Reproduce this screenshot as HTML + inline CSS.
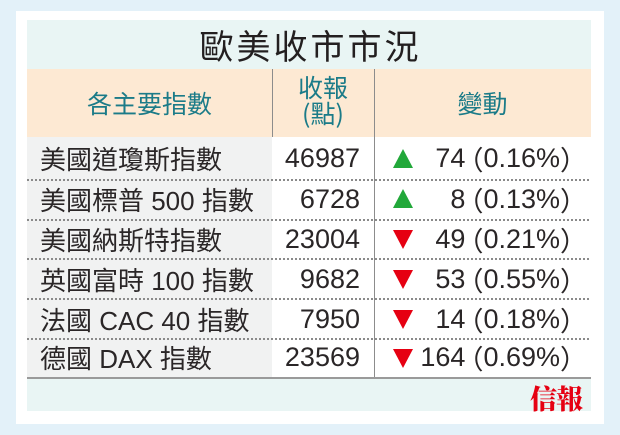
<!DOCTYPE html>
<html><head><meta charset="utf-8">
<style>
*{margin:0;padding:0;box-sizing:border-box}
html,body{width:620px;height:435px;overflow:hidden;background:#e3f1f9}
body{position:relative;font-family:"Liberation Sans","Noto Sans CJK TC",sans-serif;color:#231f20}
.abs{position:absolute}
.card{left:16px;top:11px;width:588px;height:413px;background:#fff}
.titleband{left:27px;top:20px;width:564px;height:49px;background:#e9f5f4}
.title{left:27px;top:20px;width:564px;height:49px;line-height:49px;text-align:center;font-size:34px;letter-spacing:3px;font-family:"Noto Sans CJK TC",sans-serif;font-weight:400;color:#231f20;padding-left:3px}
.head{left:27px;top:69px;width:564px;height:68px;background:#fde9d3}
.vline{width:1px;background:#8c8c8c}
.hd{color:#1b7b88;font-family:"Noto Sans CJK TC",sans-serif;text-align:center}
.col1{left:27px;top:137px;width:245px;height:240px;background:#f1f2f2}
.row{left:27px;width:564px;height:40px}
.name{position:absolute;left:13px;top:0;height:100%;display:flex;align-items:center;font-size:26px;white-space:nowrap;color:#2a2627}
.num{position:absolute;right:231px;top:0;height:100%;display:flex;align-items:center;font-size:27px;color:#2a2627}
.chg{position:absolute;right:16px;top:0;height:100%;display:flex;align-items:center;font-size:27px;white-space:nowrap;color:#2a2627}
.pl{margin-left:-9px;font-family:"Noto Sans CJK TC",sans-serif}
.pr{margin-right:-12px;font-family:"Noto Sans CJK TC",sans-serif}
.dot{left:27px;width:564px;height:2px;background:repeating-linear-gradient(90deg,#8a8a8a 0 2px,transparent 2px 4px)}
.up{position:absolute;left:366px;width:0;height:0;border-left:10px solid transparent;border-right:10px solid transparent;border-bottom:19px solid #22a83a}
.dn{position:absolute;left:366px;width:0;height:0;border-left:10px solid transparent;border-right:10px solid transparent;border-top:19px solid #e60012}
.bottom{left:27px;top:377px;width:564px;height:34px;background:#e9f5f4;border-top:2px solid #9a9a9a}
.logo{left:530px;top:378px;font-family:"Noto Serif CJK SC",serif;font-weight:900;font-size:27px;color:#e60012;letter-spacing:-1px}
</style></head><body>
<div class="abs card"></div>
<div class="abs titleband"></div>
<div class="abs title">歐美收市市況</div>
<div class="abs head"></div>
<div class="abs hd" style="left:27px;top:69px;width:245px;height:68px;line-height:68px;font-size:25px;">各主要指數</div>
<div class="abs hd" style="left:272px;top:74px;width:102px;font-size:25px;line-height:26px;">收報<br>(點)</div>
<div class="abs hd" style="left:374px;top:69px;width:217px;height:68px;line-height:68px;font-size:25px;">變動</div>
<div class="abs vline" style="left:272px;top:69px;height:68px"></div>
<div class="abs col1"></div>
<div class="abs vline" style="left:374px;top:69px;height:308px"></div>

<div class="abs row" style="top:138px;height:41px"><div class="name">美國道瓊斯指數</div><div class="num">46987</div><div class="up" style="top:11px"></div><div class="chg">74<span class="pl">（</span>0.16%<span class="pr">）</span></div></div>
<div class="abs dot" style="top:179px"></div>
<div class="abs row" style="top:179px"><div class="name">美國標普&nbsp;500&nbsp;指數</div><div class="num">6728</div><div class="up" style="top:10px"></div><div class="chg">8<span class="pl">（</span>0.13%<span class="pr">）</span></div></div>
<div class="abs dot" style="top:219px"></div>
<div class="abs row" style="top:219px"><div class="name">美國納斯特指數</div><div class="num">23004</div><div class="dn" style="top:11px"></div><div class="chg">49<span class="pl">（</span>0.21%<span class="pr">）</span></div></div>
<div class="abs dot" style="top:258px"></div>
<div class="abs row" style="top:259px"><div class="name">英國富時&nbsp;100&nbsp;指數</div><div class="num">9682</div><div class="dn" style="top:11px"></div><div class="chg">53<span class="pl">（</span>0.55%<span class="pr">）</span></div></div>
<div class="abs dot" style="top:298px"></div>
<div class="abs row" style="top:299px"><div class="name">法國&nbsp;CAC&nbsp;40&nbsp;指數</div><div class="num">7950</div><div class="dn" style="top:11px"></div><div class="chg">14<span class="pl">（</span>0.18%<span class="pr">）</span></div></div>
<div class="abs dot" style="top:338px"></div>
<div class="abs row" style="top:338px;height:39px"><div class="name">德國&nbsp;DAX&nbsp;指數</div><div class="num">23569</div><div class="dn" style="top:11px"></div><div class="chg">164<span class="pl">（</span>0.69%<span class="pr">）</span></div></div>

<div class="abs bottom"></div>
<div class="abs logo">信報</div>
</body></html>
